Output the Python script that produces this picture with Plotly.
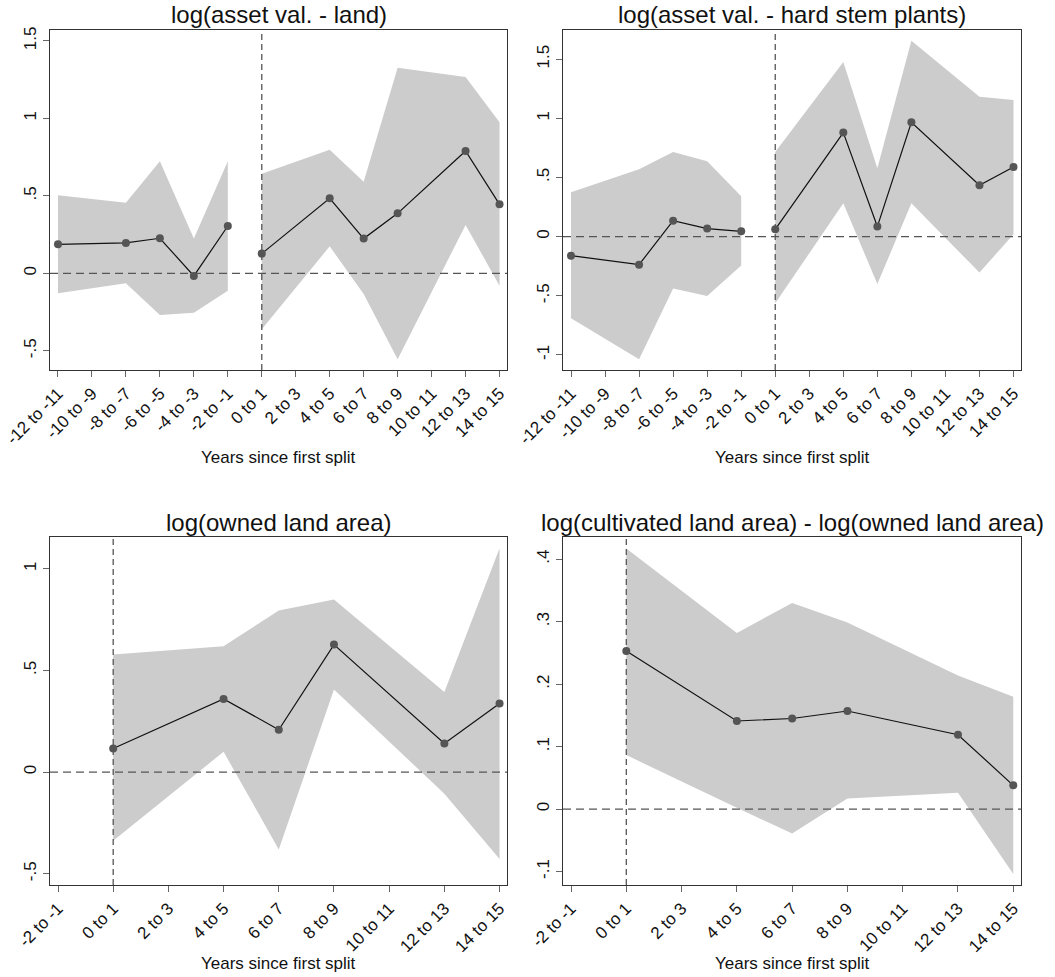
import plotly.graph_objects as go

# ---- data -------------------------------------------------------------
# x positions are the first year of each two-year bin
ticks_long = [-12, -10, -8, -6, -4, -2, 0, 2, 4, 6, 8, 10, 12, 14]
ticktext_long = ["-12 to -11", "-10 to -9", "-8 to -7", "-6 to -5", "-4 to -3",
                 "-2 to -1", "0 to 1", "2 to 3", "4 to 5", "6 to 7", "8 to 9",
                 "10 to 11", "12 to 13", "14 to 15"]
ticks_short = [-2, 0, 2, 4, 6, 8, 10, 12, 14]
ticktext_short = ["-2 to -1", "0 to 1", "2 to 3", "4 to 5", "6 to 7", "8 to 9",
                  "10 to 11", "12 to 13", "14 to 15"]

# log(asset val. - land)
land_pre_x = [-12, -8, -6, -4, -2]
land_pre_b = [0.187, 0.196, 0.226, -0.017, 0.305]
land_pre_hi = [0.503, 0.456, 0.723, 0.224, 0.723]
land_pre_lo = [-0.129, -0.065, -0.269, -0.254, -0.112]
land_post_x = [0, 4, 6, 8, 12, 14]
land_post_b = [0.127, 0.484, 0.224, 0.387, 0.789, 0.445]
land_post_hi = [0.643, 0.798, 0.591, 1.327, 1.267, 0.974]
land_post_lo = [-0.361, 0.174, -0.133, -0.555, 0.312, -0.080]

# log(asset val. - hard stem plants)
stem_pre_x = [-12, -8, -6, -4, -2]
stem_pre_b = [-0.161, -0.237, 0.135, 0.068, 0.045]
stem_pre_hi = [0.375, 0.569, 0.715, 0.637, 0.341]
stem_pre_lo = [-0.690, -1.037, -0.439, -0.501, -0.245]
stem_post_x = [0, 4, 6, 8, 12, 14]
stem_post_b = [0.062, 0.879, 0.085, 0.966, 0.434, 0.589]
stem_post_hi = [0.715, 1.476, 0.577, 1.656, 1.183, 1.155]
stem_post_lo = [-0.563, 0.282, -0.400, 0.282, -0.304, 0.020]

# log(owned land area)
owned_x = [0, 4, 6, 8, 12, 14]
owned_b = [0.116, 0.360, 0.208, 0.627, 0.141, 0.337]
owned_hi = [0.578, 0.619, 0.795, 0.849, 0.394, 1.101]
owned_lo = [-0.337, 0.100, -0.380, 0.406, -0.106, -0.427]

# log(cultivated land area) - log(owned land area)
cult_x = [0, 4, 6, 8, 12, 14]
cult_b = [0.253, 0.141, 0.145, 0.157, 0.119, 0.038]
cult_hi = [0.417, 0.282, 0.330, 0.2985, 0.214, 0.180]
cult_lo = [0.0864, 0.002, -0.039, 0.017, 0.026, -0.104]

# ---- styling ----------------------------------------------------------
FONT = "Liberation Sans, Arial, sans-serif"
BAND = "#cccccc"
DOT = "#555555"
REF = "#555555"
W, H = 1055, 977

panels = [
    dict(title="log(asset val. - land)",
         segs=[(land_pre_x, land_pre_b, land_pre_lo, land_pre_hi),
               (land_post_x, land_post_b, land_post_lo, land_post_hi)],
         px=(50, 507), py=(30, 370), xr=[-12.47, 14.44], yr=[-0.624, 1.570],
         xt=(ticks_long, ticktext_long),
         yt=([-0.5, 0, 0.5, 1, 1.5], ["-.5", "0", ".5", "1", "1.5"]),
         title_y=14, xtitle_y=457),
    dict(title="log(asset val. - hard stem plants)",
         segs=[(stem_pre_x, stem_pre_b, stem_pre_lo, stem_pre_hi),
               (stem_post_x, stem_post_b, stem_post_lo, stem_post_hi)],
         px=(563, 1021), py=(30, 370), xr=[-12.47, 14.44], yr=[-1.127, 1.746],
         xt=(ticks_long, ticktext_long),
         yt=([-1, -0.5, 0, 0.5, 1, 1.5], ["-1", "-.5", "0", ".5", "1", "1.5"]),
         title_y=14, xtitle_y=457),
    dict(title="log(owned land area)",
         segs=[(owned_x, owned_b, owned_lo, owned_hi)],
         px=(50, 507), py=(537, 885), xr=[-2.29, 14.27], yr=[-0.555, 1.156],
         xt=(ticks_short, ticktext_short),
         yt=([-0.5, 0, 0.5, 1], ["-.5", "0", ".5", "1"]),
         title_y=522, xtitle_y=963),
    dict(title="log(cultivated land area) - log(owned land area)",
         segs=[(cult_x, cult_b, cult_lo, cult_hi)],
         px=(563, 1021), py=(537, 885), xr=[-2.29, 14.28], yr=[-0.1215, 0.4355],
         xt=(ticks_short, ticktext_short),
         yt=([-0.1, 0, 0.1, 0.2, 0.3, 0.4], ["-.1", "0", ".1", ".2", ".3", ".4"]),
         title_y=522, xtitle_y=963),
]

fig = go.Figure()
annotations = []
shapes = []

for i, p in enumerate(panels, start=1):
    xa = "x" if i == 1 else f"x{i}"
    ya = "y" if i == 1 else f"y{i}"
    for (xs, b, lo, hi) in p["segs"]:
        # confidence band as a closed polygon
        fig.add_trace(go.Scatter(
            x=list(xs) + list(xs)[::-1], y=list(hi) + list(lo)[::-1],
            fill="toself", fillcolor=BAND, line=dict(width=0),
            mode="lines", hoverinfo="skip", showlegend=False,
            xaxis=xa, yaxis=ya))
    # reference lines at the event date and at zero
    shapes.append(dict(type="line", xref=xa, yref=f"{ya} domain",
                       x0=0, x1=0, y0=0, y1=1,
                       line=dict(color=REF, width=1.3, dash="6px,4px"), layer="above"))
    shapes.append(dict(type="line", xref=f"{xa} domain", yref=ya,
                       x0=0, x1=1, y0=0, y1=0,
                       line=dict(color=REF, width=1.3, dash="8px,5px"), layer="above"))
    for (xs, b, lo, hi) in p["segs"]:
        fig.add_trace(go.Scatter(
            x=xs, y=b, mode="lines+markers",
            line=dict(color="#111111", width=1.2),
            marker=dict(color=DOT, size=8),
            showlegend=False, xaxis=xa, yaxis=ya))

    x0, x1 = p["px"]
    y0, y1 = p["py"]
    common = dict(showline=True, linecolor="#333333", linewidth=1, mirror=True,
                  ticks="outside", ticklen=6, tickcolor="#666666", tickwidth=1,
                  showgrid=False, zeroline=False, automargin=False,
                  tickfont=dict(family=FONT, size=17, color="#111111"))
    fig.layout[f"xaxis{'' if i == 1 else i}"] = dict(
        domain=[x0 / W, x1 / W], anchor=ya, range=p["xr"],
        tickmode="array", tickvals=p["xt"][0], ticktext=p["xt"][1],
        tickangle=-45, **common)
    fig.layout[f"yaxis{'' if i == 1 else i}"] = dict(
        domain=[1 - y1 / H, 1 - y0 / H], anchor=xa, range=p["yr"],
        tickmode="array", tickvals=p["yt"][0], ticktext=p["yt"][1],
        tickangle=-90, **common)

    annotations.append(dict(text=p["title"], x=(x0 + x1) / 2 / W, y=1 - p["title_y"] / H,
                            xref="paper", yref="paper", showarrow=False,
                            xanchor="center", yanchor="middle",
                            font=dict(family=FONT, size=24, color="#111111")))
    annotations.append(dict(text="Years since first split", x=(x0 + x1) / 2 / W,
                            y=1 - p["xtitle_y"] / H, xref="paper", yref="paper",
                            showarrow=False, xanchor="center", yanchor="middle",
                            font=dict(family=FONT, size=17, color="#111111")))

fig.update_layout(width=W, height=H, margin=dict(l=0, r=0, t=0, b=0),
                  paper_bgcolor="white", plot_bgcolor="white",
                  shapes=shapes, annotations=annotations)

fig.write_html("out.html")
